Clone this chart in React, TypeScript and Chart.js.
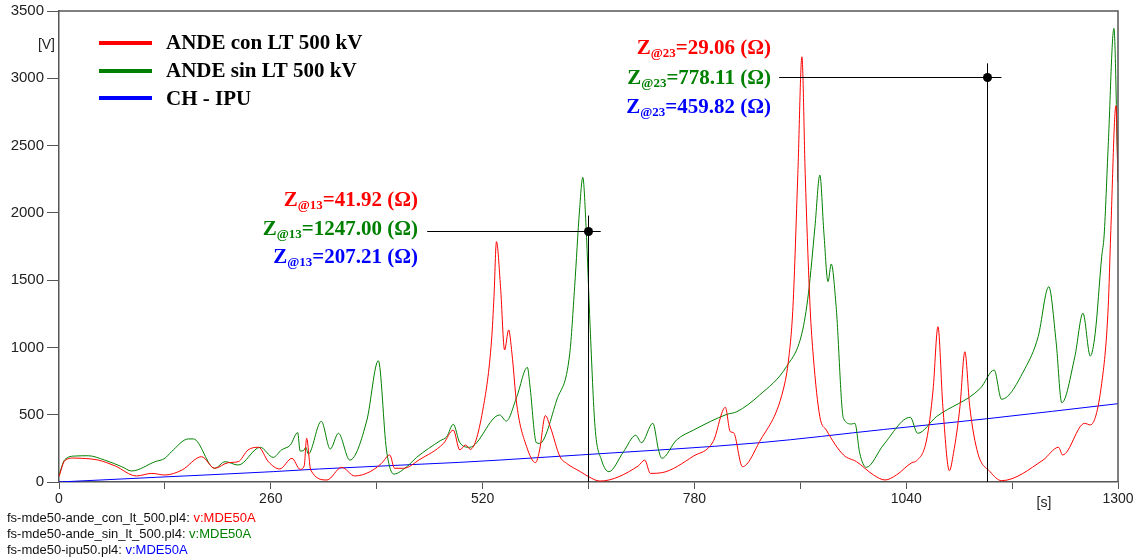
import React, { useEffect, useRef } from 'react';
import { Chart, registerables } from 'chart.js';

Chart.register(...registerables);

// ---- data (time [s], value [V]) ----
const redName = 'ANDE con LT 500 kV';
const greenName = 'ANDE sin LT 500 kV';
const blueName = 'CH - IPU';

const redPoints: [number, number][] = [
  [0, 40], [7, 158], [18, 178], [28, 176], [48, 163], [69, 119], [95, 45], [114, 64], [130, 52], [151, 89],
  [175, 188], [191, 102], [208, 144], [220, 151], [232, 238], [245, 258], [257, 151], [271, 97], [286, 176],
  [296, 94], [301, 120], [304, 325], [309, 89], [329, 15], [347, 109], [363, 45], [382, 77], [396, 139],
  [406, 201], [412, 102], [423, 102], [443, 168], [472, 287], [484, 386], [492, 238], [499, 275], [505, 243],
  [521, 560], [531, 1055], [534, 1380], [537, 1786], [542, 1451], [547, 981], [552, 1130], [556, 956],
  [562, 572], [574, 263], [585, 144], [590, 238], [597, 493], [603, 411], [615, 188], [623, 139], [640, 77],
  [650, 40], [664, 7], [711, 119], [719, 163], [726, 64], [740, 69], [779, 193], [803, 300], [818, 555],
  [824, 374], [828, 367], [839, 114], [860, 300], [889, 684], [896, 930], [901, 1303], [907, 2294],
  [912, 3160], [916, 2294], [922, 1303], [926, 930], [934, 485], [942, 386], [963, 201], [979, 151],
  [1000, 52], [1014, 15], [1028, 52], [1047, 144], [1053, 159], [1065, 312], [1073, 684], [1079, 1154],
  [1085, 560], [1093, 84], [1098, 213], [1106, 560], [1112, 968], [1118, 560], [1128, 213], [1143, 77],
  [1157, 10], [1208, 163], [1227, 258], [1232, 201], [1259, 436], [1266, 424], [1280, 733], [1288, 1303],
  [1291, 1835], [1297.5, 2796], [1300, 2230],
];

const greenPoints: [number, number][] = [
  [0, 50], [7, 165], [20, 193], [36, 195], [56, 163], [77, 114], [89, 82], [118, 151], [130, 176], [138, 225],
  [159, 320], [165, 320], [191, 102], [204, 151], [220, 126], [247, 258], [263, 183], [273, 238], [284, 275],
  [293, 367], [296, 230], [300, 233], [303, 258], [306, 208], [322, 451], [333, 245], [343, 362], [357, 163],
  [378, 461], [392, 901], [402, 238], [411, 59], [427, 114], [439, 183], [468, 307], [476, 337], [484, 429],
  [492, 292], [504, 258], [541, 498], [549, 453], [562, 634], [575, 852], [578, 721], [586, 292], [590, 287],
  [611, 609], [627, 956], [633, 1451], [639, 2021], [643, 2264], [647, 1897], [652, 1154], [658, 411],
  [666, 163], [675, 77], [693, 225], [708, 347], [715, 292], [729, 436], [736, 238], [740, 176], [758, 312],
  [779, 386], [820, 503], [832, 522], [860, 646], [893, 857], [912, 1105], [920, 1402], [928, 1897],
  [934, 2281], [939, 1848], [944, 1489], [948, 1620], [954, 1303], [963, 473], [973, 431], [977, 436],
  [983, 213], [991, 109], [1012, 275], [1045, 481], [1054, 362], [1077, 485], [1131, 696], [1148, 832],
  [1157, 615], [1186, 845], [1202, 1080], [1215, 1451], [1224, 1043], [1231, 589], [1247, 931], [1257, 1254],
  [1266, 936], [1272, 1105], [1280, 1674], [1283, 1835], [1288, 2500], [1295, 3371], [1300, 2230],
];

const bluePoints: [number, number][] = [
  [0, 0], [120, 35], [263, 77], [320, 97], [492, 146], [541, 163], [640, 201], [860, 292], [1012, 390],
  [1139, 470], [1300, 582],
];

// cursors: position, horizontal line extent, vertical line top
const cursorTime = [649.5, 1139];
const cursorValue = [1865, 3010];
const cursorLineFrom = [452, 884];
const cursorLineTo = [665, 1157];
const cursorTop = [1980, 3111];
const cursorSub = ['@13', '@23'];
const cursorRed = ['41.92', '29.06'];
const cursorGreen = ['1247.00', '778.11'];
const cursorBlue = ['207.21', '459.82'];

const fileNames = ['fs-mde50-ande_con_lt_500.pl4: ', 'fs-mde50-ande_sin_lt_500.pl4: ', 'fs-mde50-ipu50.pl4: '];
const varName = 'v:MDE50A';

const RED = '#ff0000';
const GREEN = '#008000';
const BLUE = '#0000ff';
const AXIS = '#555555';
const SERIF_B = 'bold 21px "Liberation Serif", "Times New Roman", serif';
const SERIF_SUB = 'bold 13px "Liberation Serif", "Times New Roman", serif';
const SANS = '"Liberation Sans", Arial, sans-serif';

function drawZ(ctx: CanvasRenderingContext2D, right: number, base: number, sub: string, val: string, color: string) {
  ctx.font = SERIF_B;
  const w1 = ctx.measureText('Z').width;
  const t3 = '=' + val + ' (\u03A9)';
  const w3 = ctx.measureText(t3).width;
  ctx.font = SERIF_SUB;
  const w2 = ctx.measureText(sub).width;
  const x0 = right - w1 - w2 - w3;
  ctx.fillStyle = color;
  ctx.textAlign = 'left';
  ctx.textBaseline = 'alphabetic';
  ctx.font = SERIF_B;
  ctx.fillText('Z', x0, base);
  ctx.font = SERIF_SUB;
  ctx.fillText(sub, x0 + w1, base + 3);
  ctx.font = SERIF_B;
  ctx.fillText(t3, x0 + w1 + w2, base);
}

const overlayPlugin = {
  id: 'overlay',
  afterDraw(chart: any) {
    const { ctx, chartArea: a, scales } = chart;
    const xs = scales.x;
    const ys = scales.y;
    ctx.save();
    // top & right border
    ctx.strokeStyle = AXIS;
    ctx.lineWidth = 1.5;
    ctx.beginPath();
    ctx.moveTo(a.left, a.top);
    ctx.lineTo(a.right, a.top);
    ctx.lineTo(a.right, a.bottom);
    ctx.stroke();

    // cursors
    ctx.strokeStyle = '#000';
    ctx.fillStyle = '#000';
    ctx.lineWidth = 1;
    for (let i = 0; i < cursorTime.length; i++) {
      const cx = Math.round(xs.getPixelForValue(cursorTime[i])) + 0.5;
      const cy = Math.round(ys.getPixelForValue(cursorValue[i])) + 0.5;
      ctx.beginPath();
      ctx.moveTo(cx, ys.getPixelForValue(cursorTop[i]));
      ctx.lineTo(cx, a.bottom);
      ctx.moveTo(xs.getPixelForValue(cursorLineFrom[i]), cy);
      ctx.lineTo(xs.getPixelForValue(cursorLineTo[i]), cy);
      ctx.stroke();
      ctx.beginPath();
      ctx.arc(cx, cy, 4.5, 0, Math.PI * 2);
      ctx.fill();
    }

    // cursor annotations
    const annoRight = [418, 771];
    const annoBase = [[206, 235, 263], [54, 84, 113]];
    for (let i = 0; i < cursorTime.length; i++) {
      drawZ(ctx, annoRight[i], annoBase[i][0], cursorSub[i], cursorRed[i], RED);
      drawZ(ctx, annoRight[i], annoBase[i][1], cursorSub[i], cursorGreen[i], GREEN);
      drawZ(ctx, annoRight[i], annoBase[i][2], cursorSub[i], cursorBlue[i], BLUE);
    }

    // legend
    const legNames = [redName, greenName, blueName];
    const legColors = [RED, GREEN, BLUE];
    const legLineY = [43, 71, 98];
    const legBase = [49, 77, 105];
    for (let i = 0; i < 3; i++) {
      ctx.strokeStyle = legColors[i];
      ctx.lineWidth = 4;
      ctx.beginPath();
      ctx.moveTo(99, legLineY[i]);
      ctx.lineTo(152, legLineY[i]);
      ctx.stroke();
      ctx.fillStyle = '#000';
      ctx.font = SERIF_B;
      ctx.textAlign = 'left';
      ctx.textBaseline = 'alphabetic';
      ctx.fillText(legNames[i], 166, legBase[i]);
    }

    // unit labels
    ctx.fillStyle = '#222';
    ctx.font = '14px ' + SANS;
    ctx.textBaseline = 'middle';
    ctx.textAlign = 'right';
    ctx.fillText('[V]', 55, 45);
    ctx.textAlign = 'center';
    ctx.fillText('[s]', 1044, 503);

    // file names
    ctx.font = '13px ' + SANS;
    ctx.textAlign = 'left';
    const fy = [518, 534, 550];
    for (let i = 0; i < 3; i++) {
      ctx.fillStyle = '#111';
      ctx.fillText(fileNames[i], 7, fy[i]);
      const w = ctx.measureText(fileNames[i]).width;
      ctx.fillStyle = legColors[i];
      ctx.fillText(varName, 7 + w, fy[i]);
    }
    ctx.restore();
  },
};

export default function App() {
  const ref = useRef<HTMLCanvasElement>(null);
  useEffect(() => {
    if (!ref.current) return;
    const toXY = (p: [number, number][]) => p.map(([x, y]) => ({ x, y }));
    const lineOpts = { borderWidth: 1, pointRadius: 0, fill: false, cubicInterpolationMode: 'monotone' as const };
    const chart = new Chart(ref.current, {
      type: 'line',
      data: {
        datasets: [
          { label: redName, data: toXY(redPoints), borderColor: RED, ...lineOpts },
          { label: greenName, data: toXY(greenPoints), borderColor: GREEN, ...lineOpts },
          { label: blueName, data: toXY(bluePoints), borderColor: BLUE, ...lineOpts },
        ],
      },
      options: {
        animation: false,
        responsive: false,
        parsing: false as any,
        normalized: true,
        layout: { padding: { top: 11, right: 20, left: 0, bottom: 0 } },
        plugins: { legend: { display: false }, tooltip: { enabled: false } },
        scales: {
          x: {
            type: 'linear',
            min: 0,
            max: 1300,
            position: 'bottom',
            afterFit: (s: any) => { s.height = 78; s.paddingLeft = 0; s.paddingRight = 0; },
            ticks: {
              stepSize: 130,
              autoSkip: false,
              maxRotation: 0,
              padding: 2,
              color: '#222',
              font: { family: SANS, size: 14 },
              callback: (v: any) => (Number(v) % 260 === 0 ? String(v) : ''),
            },
            grid: { drawOnChartArea: false, drawTicks: true, tickLength: 7, color: AXIS, lineWidth: 1 },
            border: { display: true, color: AXIS, width: 1.5 },
          },
          y: {
            type: 'linear',
            min: 0,
            max: 3500,
            afterFit: (s: any) => { s.width = 59; s.paddingTop = 0; s.paddingBottom = 0; },
            ticks: {
              stepSize: 500,
              padding: 3,
              color: '#222',
              font: { family: SANS, size: 15 },
              callback: (v: any) => String(v),
            },
            grid: { drawOnChartArea: false, drawTicks: true, tickLength: 12, color: AXIS, lineWidth: 1 },
            border: { display: true, color: AXIS, width: 1.5 },
          },
        },
      },
      plugins: [overlayPlugin],
    });
    return () => chart.destroy();
  }, []);
  return (
    <div style={{ position: 'fixed', left: 0, top: 0, width: 1138, height: 560, background: '#fff' }}>
      <canvas ref={ref} width={1138} height={560} style={{ display: 'block' }} />
    </div>
  );
}
